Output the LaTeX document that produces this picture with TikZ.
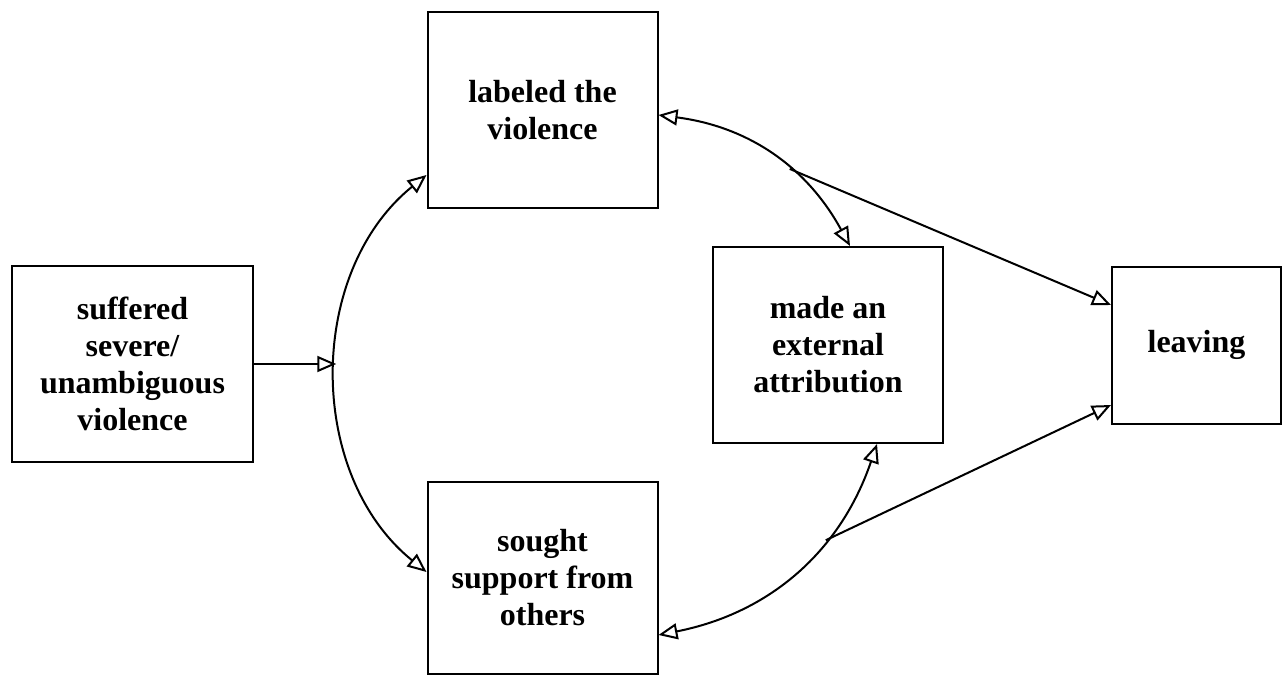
\documentclass[tikz,border=0pt]{standalone}
\usepackage{fontspec}
\setmainfont{Liberation Serif}
\usetikzlibrary{arrows.meta, positioning}

\begin{document}
\begin{tikzpicture}[x=1pt,y=-1pt,>={Triangle[open,length=19pt,width=16pt]},line width=2pt,on grid,
  box/.style={draw, align=center, inner sep=0pt, minimum width=230pt, minimum height=196pt, font=\bfseries\fontsize{32}{37}\selectfont}]
\useasboundingbox (0,0) rectangle (1282,677);
%Boxes
\node (1) [box, minimum width=241pt] at (132.5,364) {suffered\\severe/\\unambiguous\\violence};
\node (2) [box, above right=254pt and 410pt of 1] {labeled the\\violence};
\node (3) [box, minimum height=192pt, below right=214pt and 410pt of 1] {sought\\support from\\others};
\node (4) [box, below right=235pt and 285.5pt of 2] {made an\\external\\attribution};
\node (5) [box, minimum width=169pt, minimum height=157pt, right=368.5pt of 4] {leaving};

%Connections
\draw[<->] ([yshift=-65pt]2.west) to[bend right=51] coordinate[pos=0.5] (a) ([yshift=6pt]3.west);
\draw[->] (1.east) -- (1.east -| a);
\draw[<->] ([yshift=-5pt]2.east) to[bend left=27] coordinate[pos=0.6] (b) ([xshift=22pt]4.north);
\draw[->] (b) -- ([yshift=40pt]5.west);
\draw[<->] ([yshift=-57pt]3.east) to[bend right=30] coordinate[pos=0.65] (c) ([xshift=49pt]4.south);
\draw[->] (c) -- ([yshift=-60pt]5.west);
\end{tikzpicture}
\end{document}
